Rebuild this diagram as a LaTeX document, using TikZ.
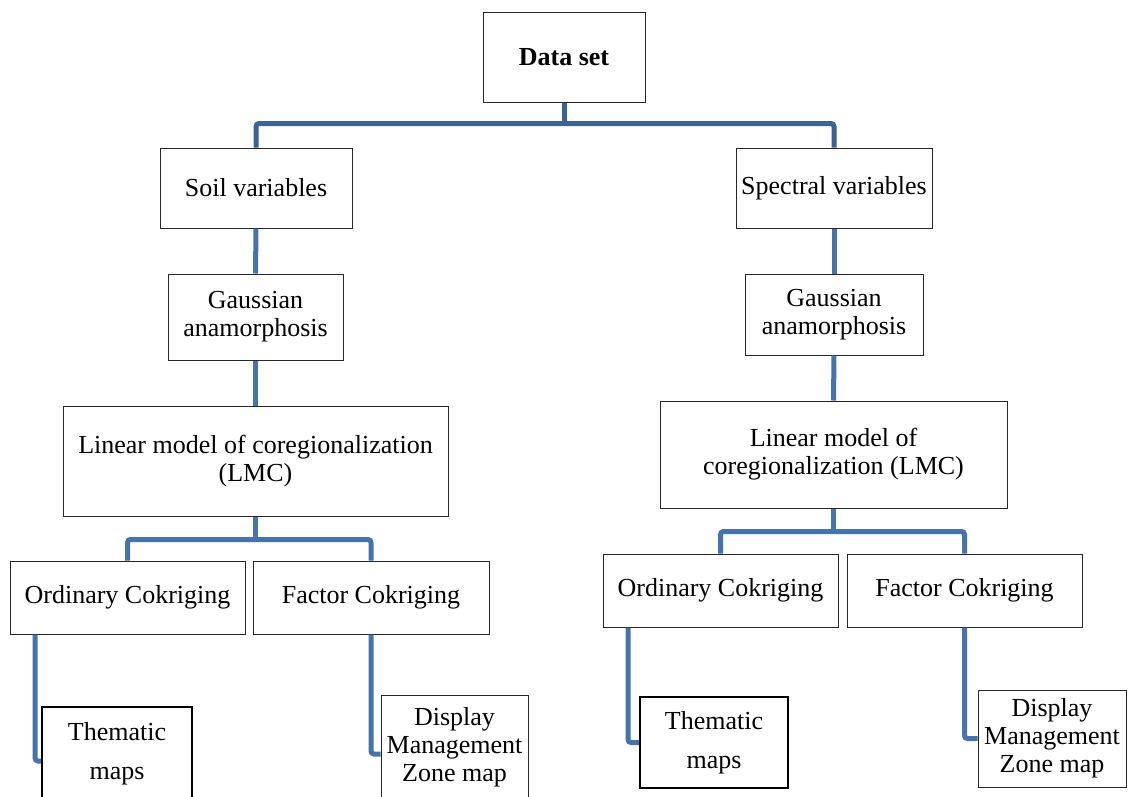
\documentclass[tikz,border=0pt]{standalone}
\usepackage{fontspec}
\setmainfont{Liberation Serif}
\tikzset{
  box/.style={draw=black!85, line width=1pt, rectangle, inner sep=0pt, align=center,
    font=\fontsize{26}{28}\selectfont},
  thick box/.style={box, line width=2.4pt, draw=black, font=\fontsize{26}{39}\selectfont},
  conn/.style={draw=connblue, line width=5pt, rounded corners=3pt},
}
\definecolor{connblue}{HTML}{4673AB}
\definecolor{conntop}{HTML}{3D6393}
\begin{document}
\begin{tikzpicture}[x=1pt,y=-1pt]
\useasboundingbox (0,0) rectangle (1130,796);
% nodes
\node[box, minimum width=162, minimum height=90] (data) at (564,57) {\textbf{Data set}};
\node[box, minimum width=192, minimum height=80] (soil) at (256,188) {Soil variables};
\node[box, minimum width=196, minimum height=80] (spec) at (834,188) {Spectral variables};
\node[box, minimum width=175, minimum height=86] (gaL) at (255.5,317) {Gaussian\\anamorphosis};
\node[box, minimum width=178, minimum height=81] (gaR) at (834,314.5) {Gaussian\\anamorphosis};
\node[box, minimum width=385, minimum height=110] (lmcL) at (255.5,461) {Linear model of coregionalization\\(LMC)};
\node[box, minimum width=347, minimum height=107] (lmcR) at (833.5,454.5) {Linear model of\\coregionalization (LMC)};
\node[box, minimum width=235, minimum height=73] (ordL) at (127.5,597.5) {Ordinary Cokriging};
\node[box, minimum width=236, minimum height=73] (facL) at (371,597.5) {Factor Cokriging};
\node[box, minimum width=235, minimum height=73] (ordR) at (720.5,590.5) {Ordinary Cokriging};
\node[box, minimum width=235, minimum height=73] (facR) at (964.5,590.5) {Factor Cokriging};
\node[thick box, minimum width=150, minimum height=94] (themL) at (117,754) {Thematic\\maps};
\node[box, minimum width=147, minimum height=104] (dispL) at (454.5,747) {Display\\Management\\Zone map};
\node[thick box, minimum width=148, minimum height=91] (themR) at (714,742.5) {Thematic\\maps};
\node[box, minimum width=148, minimum height=97] (dispR) at (1052,738.5) {Display\\Management\\Zone map};
% connectors
\draw[conn, draw=conntop] (data.south) -- ++(0,23);
\draw[conn, draw=conntop] (soil.north) -- ++(0,-24) -| (spec.north);
\draw[conn] (soil.south) -- (gaL.north);
\draw[conn] (gaL.south) -- (lmcL.north);
\draw[conn] (spec.south) -- (gaR.north);
\draw[conn] (gaR.south) -- (lmcR.north);
\draw[conn] (lmcL.south) -- ++(0,24);
\draw[conn] (ordL.north) -- ++(0,-21) -| (facL.north);
\draw[conn] (lmcR.south) -- ++(0,24);
\draw[conn] (ordR.north) -- ++(0,-22) -| (facR.north);
\draw[conn] ([xshift=-92.5pt]ordL.south) |- ([yshift=-7pt]themL.west);
\draw[conn] (facL.south) |- ([yshift=-7pt]dispL.west);
\draw[conn] ([xshift=-92.5pt]ordR.south) |- (themR.west);
\draw[conn] (facR.south) |- (dispR.west);
\end{tikzpicture}
\end{document}
